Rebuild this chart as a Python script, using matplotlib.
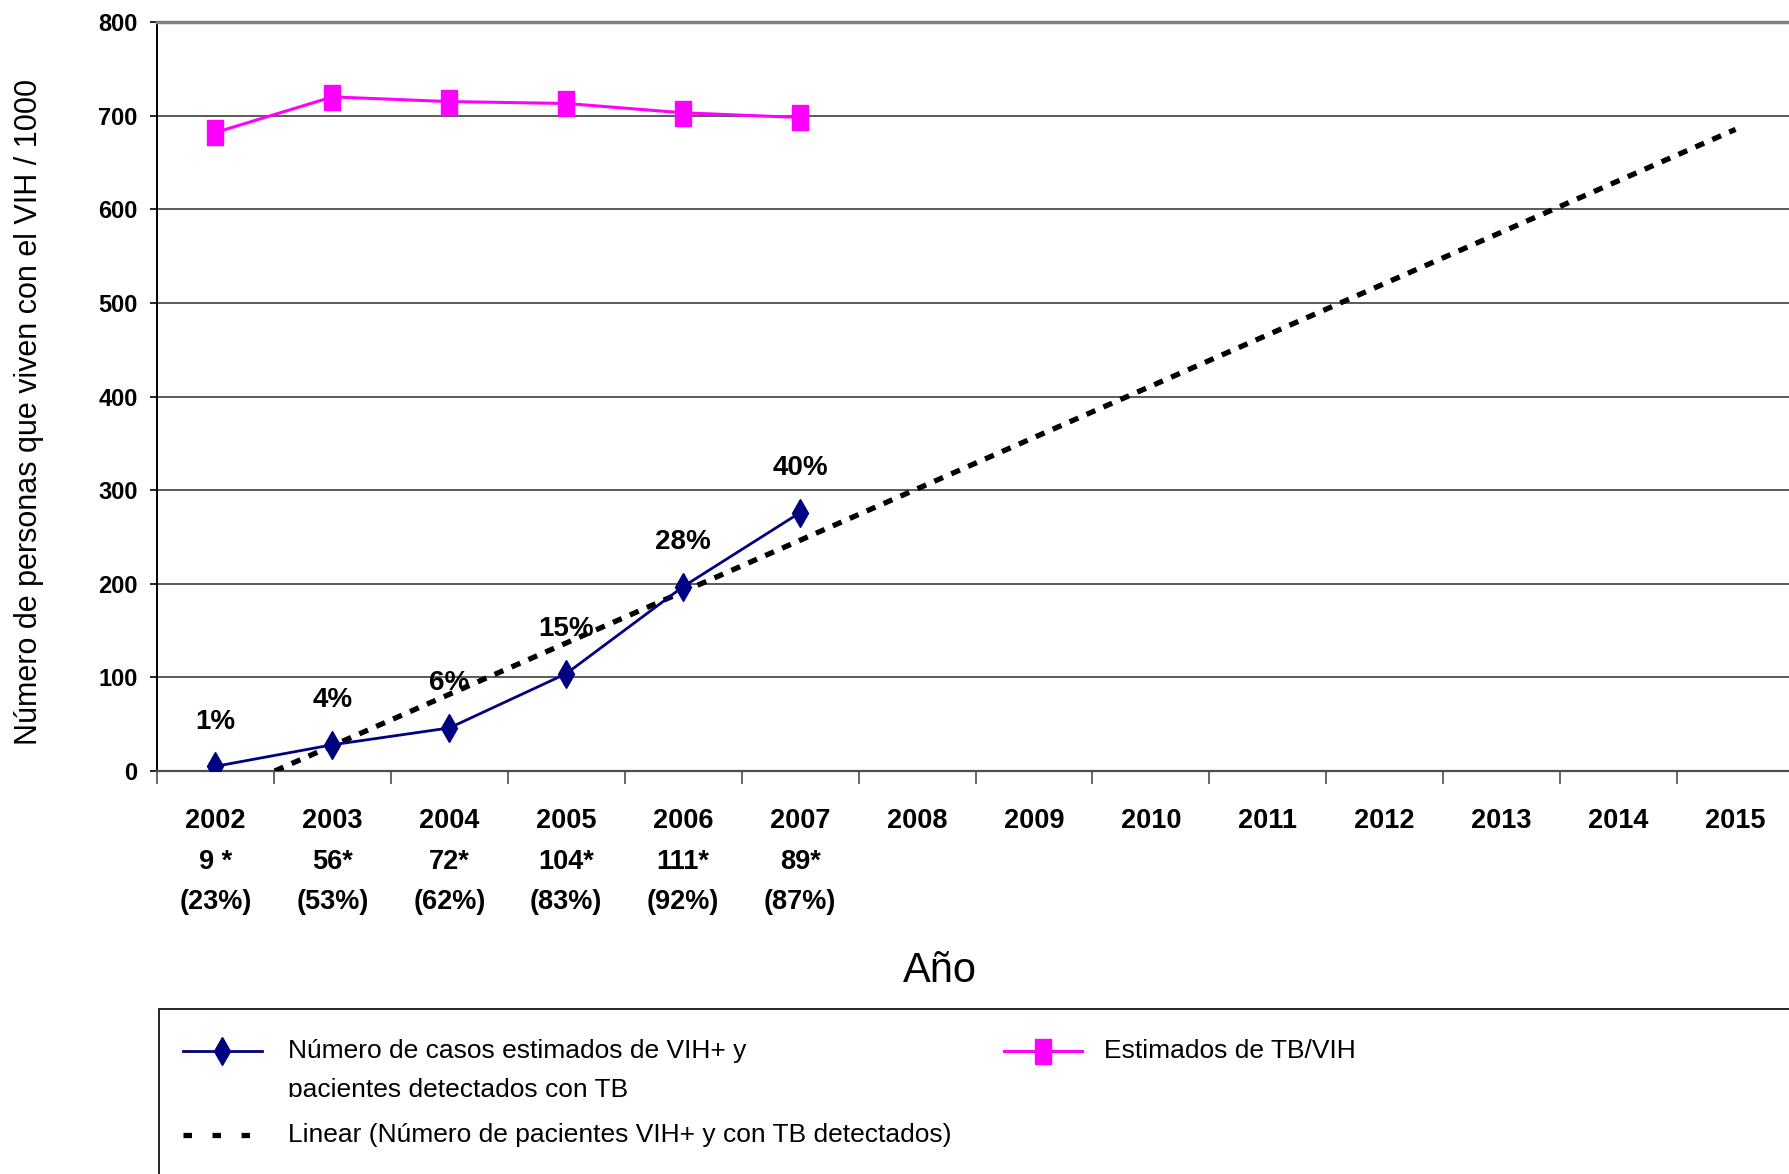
#!/usr/bin/env python3
import matplotlib
matplotlib.use("Agg")
import matplotlib.pyplot as plt
import numpy as np
from matplotlib.lines import Line2D
from matplotlib.patches import Rectangle
from matplotlib.transforms import Bbox

years = ["2002", "2003", "2004", "2005", "2006", "2007", "2008",
         "2009", "2010", "2011", "2012", "2013", "2014", "2015"]
detected = ["9 *", "56*", "72*", "104*", "111*", "89*"]
detected_pct = ["(23%)", "(53%)", "(62%)", "(83%)", "(92%)", "(87%)"]
casos_vih_tb = [5, 28, 46, 104, 197, 276]
estimados_tb_vih = [682, 720, 715, 713, 703, 698]
pct_labels = ["1%", "4%", "6%", "15%", "28%", "40%"]

FONT = ["Liberation Sans", "DejaVu Sans"]

NAVY = "#000080"
MAGENTA = "#ff00ff"
GRID = "#4d4d4d"


def tall_square():
    return [(-0.32, -0.5), (0.32, -0.5), (0.32, 0.5), (-0.32, 0.5), (-0.32, -0.5)]


def main():
    W, H = 1789, 1174
    fig = plt.figure(figsize=(W / 100, H / 100), dpi=100)
    ax = fig.add_axes([157 / W, 1 - 771 / H, 1637 / W, 749 / H])

    x = np.arange(1, len(years) + 1)
    n = len(casos_vih_tb)

    # gridlines
    ax.set_ylim(0, 800)
    ax.set_xlim(0.5, len(years) + 0.5)
    ax.set_yticks(np.arange(0, 801, 100))
    ax.yaxis.grid(True, color=GRID, lw=1.3)
    ax.set_axisbelow(True)

    # linear trend of the detected cases
    a, b = np.polyfit(x[:n], casos_vih_tb, 1)
    x0 = max(-b / a, 0.5)
    xt = np.array([x0, x[-1]])
    ax.plot(xt, a * xt + b, color="black", lw=3.8,
            linestyle=(0, (1.8, 1.7)), dash_capstyle="butt", zorder=3)

    ax.plot(x[:n], estimados_tb_vih, color=MAGENTA, lw=2.2,
            marker=tall_square(), markersize=18, zorder=4)
    ax.plot(x[:n], casos_vih_tb, color=NAVY, lw=2.0,
            marker="d", markersize=14, zorder=5)

    for xi, yi, lab in zip(x[:n], casos_vih_tb, pct_labels):
        ax.annotate(lab, (xi, yi), xytext=(0, 32), textcoords="offset points",
                    ha="center", va="center", fontsize=20,
                    fontweight="bold", family=FONT, zorder=6)

    # axes styling
    ax.spines["right"].set_visible(False)
    ax.spines["top"].set_color("#808080")
    ax.spines["top"].set_linewidth(2.5)
    ax.spines["left"].set_linewidth(1.4)
    ax.spines["bottom"].set_color(GRID)
    ax.spines["bottom"].set_linewidth(1.6)

    labels = []
    for i, yr in enumerate(years):
        if i < n:
            labels.append(f"{yr}\n{detected[i]}\n{detected_pct[i]}")
        else:
            labels.append(yr)
    ax.set_xticks(x)
    ax.set_xticklabels(labels, fontsize=19.5, fontweight="bold",
                       family=FONT, linespacing=1.72, va="top")
    ax.tick_params(axis="x", which="major", length=0, pad=27)
    ax.set_xticks(np.arange(0.5, len(years) + 1, 1), minor=True)
    ax.tick_params(axis="x", which="minor", length=9, width=1.2,
                   color=GRID, direction="out")

    ax.tick_params(axis="y", length=5, width=1.2, pad=9)
    for t in ax.get_yticklabels():
        t.set_fontsize(17)
        t.set_fontweight("bold")
        t.set_family(FONT)

    fig.text(29 / W, 1 - 412 / H,
             "Número de personas que viven con el VIH / 1000",
             rotation=90, ha="center", va="center", fontsize=22, family=FONT)
    fig.text(940 / W, 1 - 971 / H, "Año", ha="center", va="center",
             fontsize=30, family=FONT)

    draw_legend(fig, W, H)
    fig.savefig("out.png", dpi=100)


def draw_legend(fig, W, H):
    def fx(px):
        return px / W

    def fy(py):
        return 1 - py / H

    fig.add_artist(Rectangle((fx(159), fy(H + 10)), fx(W + 10) - fx(159),
                             fy(1009) - fy(H + 10), transform=fig.transFigure,
                             fill=False, edgecolor="black", lw=1.2))

    fig.add_artist(Line2D([fx(183), fx(262)], [fy(1051), fy(1051)],
                          transform=fig.transFigure, color=NAVY, lw=2.0))
    fig.add_artist(Line2D([fx(222)], [fy(1051)], transform=fig.transFigure,
                          color=NAVY, marker="d", markersize=14))
    fig.text(fx(288), fy(1051), "Número de casos estimados de VIH+ y",
             va="center", fontsize=19, family=FONT)
    t2 = fig.text(fx(288), fy(1090), "pacientes detectados con TB",
                  va="center", fontsize=19, family=FONT)
    t2.set_clip_box(Bbox([[0, H - 1097], [W, H]]))
    t2.set_clip_on(True)

    fig.add_artist(Line2D([fx(1004), fx(1082)], [fy(1051), fy(1051)],
                          transform=fig.transFigure, color=MAGENTA, lw=2.2))
    fig.add_artist(Line2D([fx(1043)], [fy(1051)], transform=fig.transFigure,
                          color=MAGENTA, marker=tall_square(), markersize=18))
    fig.text(fx(1104), fy(1051), "Estimados de TB/VIH",
             va="center", fontsize=19, family=FONT)

    fig.add_artist(Line2D([fx(183), fx(253)], [fy(1135), fy(1135)],
                          transform=fig.transFigure, color="black", lw=3.8,
                          linestyle=(0, (1.6, 3.9)), dash_capstyle="butt"))
    fig.text(fx(288), fy(1135),
             "Linear (Número de pacientes VIH+ y con TB detectados)",
             va="center", fontsize=19, family=FONT)


if __name__ == "__main__":
    main()
